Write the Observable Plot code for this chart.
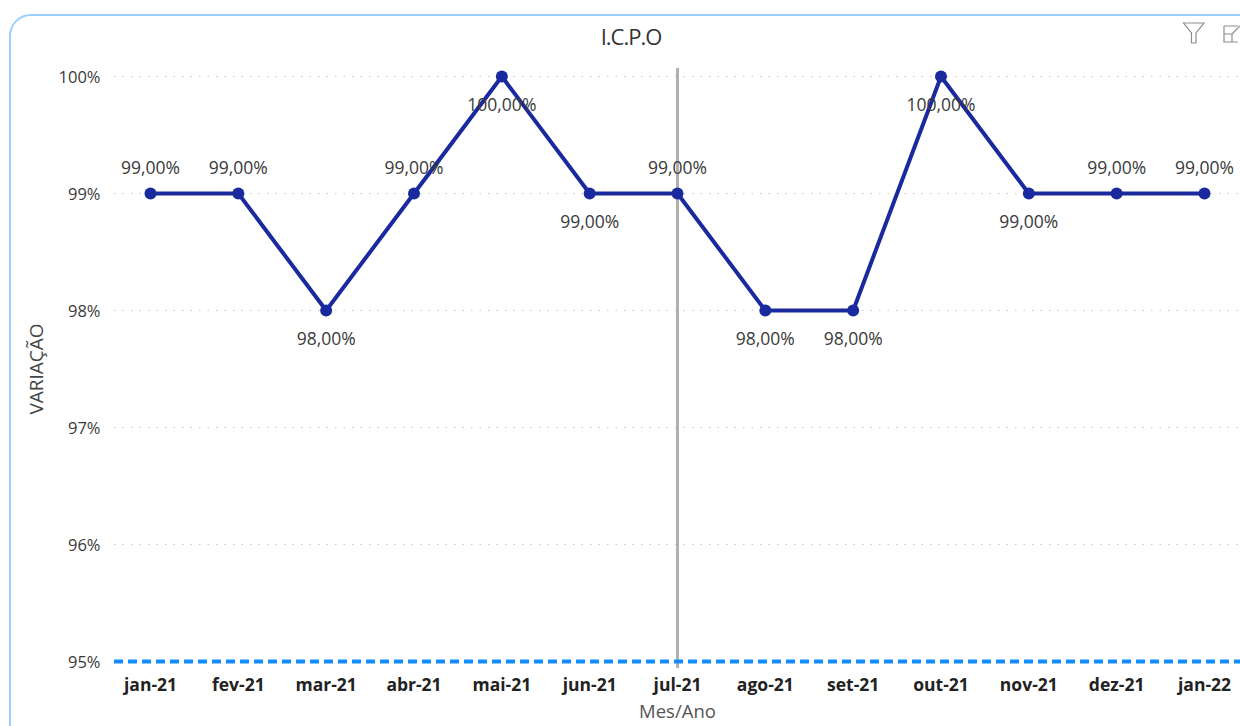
<!DOCTYPE html>
<html lang="pt">
<head>
<meta charset="utf-8">
<script src="https://cdn.jsdelivr.net/npm/d3@7"></script>
<script src="https://cdn.jsdelivr.net/npm/@observablehq/plot@0.6"></script>
<style>
html,body{margin:0;padding:0;background:#fff;width:1240px;height:726px;overflow:hidden}
#wrap{position:relative;width:1240px;height:726px;overflow:hidden}
#card{position:absolute;left:9px;top:14px;width:1300px;height:800px;border:2px solid #9ccfff;border-radius:22px;box-sizing:border-box;pointer-events:none}
#title{position:absolute;left:531px;width:200px;top:21px;text-align:center;font:22px "Open Sans",sans-serif;letter-spacing:-1px;color:#333;line-height:30px}
#icons{position:absolute;left:1180px;top:20px}
#chart{position:absolute;left:0;top:0}
</style>
</head>
<body>
<div id="wrap">
<div id="chart"></div>
<div id="card"></div>
<div id="title">I.C.P.O</div>
<svg id="icons" width="60" height="26" fill="none" stroke="#8d8d8d" stroke-width="1.2">
<path d="M3.5 3H24L16 13V23H11.500V13Z"/>
<path d="M44 6H58M44 6V22H58M44 14H52V22M52 14L60 6"/>
</svg>
</div>
<script>
const months = ["jan-21","fev-21","mar-21","abr-21","mai-21","jun-21","jul-21","ago-21","set-21","out-21","nov-21","dez-21","jan-22"];
const values = [99,99,98,99,100,99,99,98,98,100,99,99,99];
const labelSide = ["above","above","below","above","below","below","above","below","below","below","below","above","above"];
const yTicks = [95,96,97,98,99,100];
const selectedMonth = "jul-21";
const floorValue = 95;

const rows = months.map((m,i)=>({month:m,value:values[i],side:labelSide[i]}));
const fmt = v => v.toFixed(2).replace(".",",")+"%";
const font = '"Open Sans",sans-serif';

const plot = Plot.plot({
  width:1240,height:726,
  marginLeft:150,marginRight:36,marginTop:76,marginBottom:65,
  style:{fontFamily:font,background:"transparent",overflow:"visible"},
  x:{type:"point",domain:months,padding:0,round:false,label:null},
  y:{domain:[95,100],label:null},
  marks:[
    Plot.ruleY(yTicks.filter(t=>t!==floorValue),{stroke:"#c8c8c8",strokeWidth:1.2,strokeDasharray:"1.500 7",insetLeft:-36,insetRight:-36}),
    Plot.axisY({ticks:yTicks,tickSize:0,tickPadding:0,dx:-50,dy:1,tickFormat:d=>d+"%",fontSize:16.5,color:"#3a3a3a",label:null}),
    Plot.axisX({tickSize:0,tickPadding:17,dy:0.5,fontSize:17.5,fontWeight:700,color:"#222",label:null,textAnchor:"middle"}),
    Plot.ruleX([selectedMonth],{stroke:"#b0b0b0",strokeWidth:3,insetTop:-8,insetBottom:-7}),
    Plot.ruleY([floorValue],{stroke:"#118dff",strokeWidth:4,strokeDasharray:"9 5",insetLeft:-36,insetRight:-36}),
    Plot.line(rows,{x:"month",y:"value",stroke:"#1a2a9e",strokeWidth:4,curve:"linear"}),
    Plot.dot(rows,{x:"month",y:"value",r:6,fill:"#1a2a9e"}),
    Plot.text(rows.filter(d=>d.side==="above"),{x:"month",y:"value",text:d=>fmt(d.value),dy:-25,fontSize:17.5,fill:"#3a3a3a"}),
    Plot.text(rows.filter(d=>d.side==="below"),{x:"month",y:"value",text:d=>fmt(d.value),dy:29,fontSize:17.5,fill:"#3a3a3a"}),
    Plot.text(["Mes/Ano"],{frameAnchor:"bottom",dy:56,fontSize:18.5,fill:"#555",x:()=>selectedMonth}),
    Plot.text(["VARIAÇÃO"],{frameAnchor:"left",textAnchor:"middle",dx:-114,rotate:-90,fontSize:19,fill:"#444"})
  ]
});
document.getElementById("chart").appendChild(plot);
</script>
</body>
</html>
